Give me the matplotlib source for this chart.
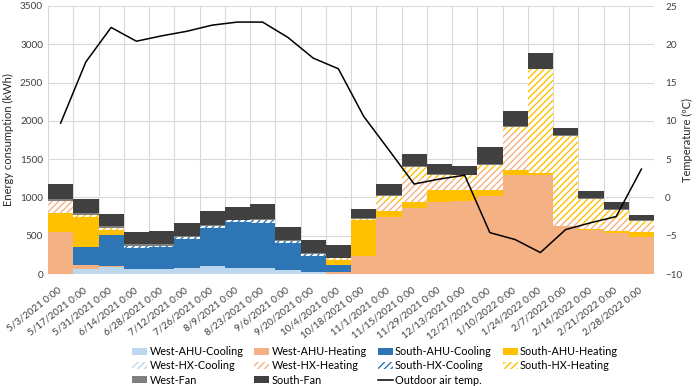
import matplotlib
matplotlib.use("Agg")
import matplotlib.pyplot as plt
import matplotlib.transforms as mtransforms
import numpy as np
from matplotlib.ticker import MultipleLocator, FixedLocator

plt.rcParams['font.family'] = ['Lato', 'DejaVu Sans']
plt.rcParams['hatch.linewidth'] = 1.0

dates = ['5/3/2021 0:00', '5/17/2021 0:00', '5/31/2021 0:00', '6/14/2021 0:00',
         '6/28/2021 0:00', '7/12/2021 0:00', '7/26/2021 0:00', '8/9/2021 0:00',
         '8/23/2021 0:00', '9/6/2021 0:00', '9/20/2021 0:00', '10/4/2021 0:00',
         '10/18/2021 0:00', '11/1/2021 0:00', '11/15/2021 0:00', '11/29/2021 0:00',
         '12/13/2021 0:00', '12/27/2021 0:00', '1/10/2022 0:00', '1/24/2022 0:00',
         '2/7/2022 0:00', '2/14/2022 0:00', '2/21/2022 0:00', '2/28/2022 0:00']

west_ahu_cool = [0, 61, 90, 60, 70, 75, 100, 75, 83, 52, 30, 0,
                 0, 0, 0, 0, 0, 0, 0, 0, 0, 0, 0, 0]
west_ahu_heat = [545, 56, 15, 0, 0, 0, 0, 0, 0, 0, 0, 30,
                 235, 740, 857, 945, 955, 1019, 1293, 1293, 627, 575, 540, 488]
south_ahu_cool = [0, 240, 400, 284, 278, 378, 495, 600, 587, 357, 210, 87,
                  0, 0, 0, 0, 0, 0, 0, 0, 0, 0, 0, 0]
south_ahu_heat = [248, 392, 75, 0, 0, 0, 0, 0, 0, 0, 0, 66,
                  470, 87, 88, 150, 142, 78, 65, 25, 0, 10, 26, 65]
west_hx_cool = [0, 0, 0, 0, 0, 0, 0, 0, 0, 0, 0, 0,
                0, 0, 0, 0, 0, 0, 0, 0, 0, 0, 0, 0]
west_hx_heat = [160, 0, 0, 0, 0, 0, 0, 0, 0, 0, 0, 0,
                0, 117, 305, 155, 150, 260, 500, 0, 78, 60, 139, 87]
south_hx_cool = [0, 0, 0, 22, 22, 30, 30, 25, 30, 20, 25, 0,
                 0, 0, 0, 0, 0, 0, 0, 0, 0, 0, 0, 0]
south_hx_heat = [0, 21, 21, 0, 0, 0, 0, 0, 0, 0, 0, 22,
                 15, 74, 150, 40, 40, 65, 65, 1355, 1097, 340, 135, 55]
west_fan = [26, 30, 22, 20, 20, 17, 15, 10, 15, 10, 10, 8,
            12, 13, 15, 10, 10, 12, 10, 10, 10, 12, 10, 10]
south_fan = [196, 184, 166, 157, 175, 170, 180, 165, 200, 175, 175, 160,
             120, 144, 152, 140, 113, 225, 200, 200, 90, 90, 95, 65]

outdoor_temp = [9.7, 17.7, 22.2, 20.4, 21.1, 21.7, 22.5, 22.9, 22.9, 20.9, 18.2, 16.8,
                10.6, 6.2, 1.75, 2.4, 2.9, -4.6, -5.5, -7.2, -4.2, -3.3, -2.5, 3.7]

series = [
    ('West-AHU-Cooling', west_ahu_cool, '#BDD7EE', False),
    ('West-AHU-Heating', west_ahu_heat, '#F4B183', False),
    ('South-AHU-Cooling', south_ahu_cool, '#2E75B6', False),
    ('South-AHU-Heating', south_ahu_heat, '#FFC000', False),
    ('West-HX-Cooling', west_hx_cool, '#BDD7EE', True),
    ('West-HX-Heating', west_hx_heat, '#F4B183', True),
    ('South-HX-Cooling', south_hx_cool, '#2E75B6', True),
    ('South-HX-Heating', south_hx_heat, '#FFC000', True),
    ('West-Fan', west_fan, '#7F7F7F', False),
    ('South-Fan', south_fan, '#404040', False),
]

fig = plt.figure(figsize=(6.97, 3.86), dpi=100)
ax = fig.add_axes([48/697, 1-274/386, (654-48)/697, (274-6)/386])
x = np.arange(len(dates))
bottom = np.zeros(len(dates))
handles = {}
for name, vals, col, hatched in series:
    v = np.array(vals, dtype=float)
    if hatched:
        b = ax.bar(x, v, width=1.0, bottom=bottom, facecolor='white', edgecolor=col,
                   hatch='/////', linewidth=0, label=name, zorder=2)
    else:
        b = ax.bar(x, v, width=1.0, bottom=bottom, color=col, linewidth=0,
                   label=name, zorder=2)
    handles[name] = b
    bottom += v

ax.set_xlim(-0.5, len(dates) - 0.5)
ax.set_ylim(0, 3500)
ax.yaxis.set_major_locator(MultipleLocator(500))
ax.set_xticks(x)
ax.set_xticklabels(dates, rotation=38, ha='right', va='center',
                   rotation_mode='anchor', fontsize=7.2)
offset = mtransforms.ScaledTranslation(12/100, 0, fig.dpi_scale_trans)
for lbl in ax.get_xticklabels():
    lbl.set_transform(lbl.get_transform() + offset)
ax.xaxis.set_minor_locator(FixedLocator(np.arange(-0.5, len(dates), 1.0)))
ax.grid(axis='y', which='major', color='#D9D9D9', linewidth=0.8, zorder=0)
ax.grid(axis='x', which='minor', color='#D9D9D9', linewidth=0.8, zorder=0)
ax.set_axisbelow(True)
ax.tick_params(axis='both', which='both', length=0, labelsize=7.2, colors='#404040')
ax.tick_params(axis='x', pad=11)
for s in ax.spines.values():
    s.set_visible(False)
ax.set_ylabel('Energy consumption (kWh)', fontsize=8, color='#262626')

ax2 = ax.twinx()
line, = ax2.plot(x, outdoor_temp, color='black', linewidth=1.1, label='Outdoor air temp.', zorder=5)
ax2.set_ylim(-10, 25)
ax2.yaxis.set_major_locator(MultipleLocator(5))
ax2.tick_params(axis='y', length=0, labelsize=7.2, colors='#404040', pad=8)
for s in ax2.spines.values():
    s.set_visible(False)
ax2.set_ylabel('Temperature (ºC)', fontsize=8, color='#262626', labelpad=0)

order = ['West-AHU-Cooling', 'West-HX-Cooling', 'West-Fan',
         'West-AHU-Heating', 'West-HX-Heating', 'South-Fan',
         'South-AHU-Cooling', 'South-HX-Cooling', 'Outdoor air temp.',
         'South-AHU-Heating', 'South-HX-Heating']
handles['Outdoor air temp.'] = line
fig.legend([handles[n] for n in order], order, loc='upper left',
           bbox_to_anchor=(132/697, 1 - 346/386), ncol=4, frameon=False, fontsize=7.8,
           handlelength=1.4, handleheight=0.65, handletextpad=0.2, columnspacing=1.0,
           labelspacing=0.3, borderpad=0, borderaxespad=0)

fig.savefig('out.png', dpi=100)
